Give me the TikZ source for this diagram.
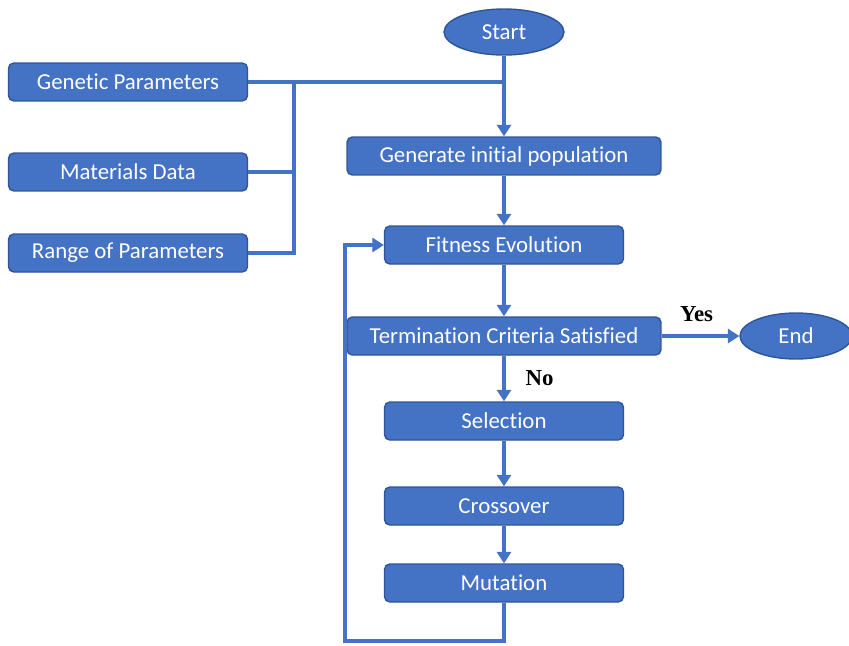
\documentclass[tikz,border=0pt]{standalone}
\usepackage{fontspec}
\setmainfont{Carlito}[Ligatures=NoCommon]
\newfontfamily\labelfont{Liberation Serif}
\usetikzlibrary{shapes.geometric, arrows.meta, positioning}
\definecolor{boxblue}{HTML}{4472C4}
\definecolor{edgeblue}{HTML}{2F5597}
\tikzset{
    block/.style={rectangle, draw=edgeblue, line width=0.8pt, fill=boxblue, text=white, minimum width=4.78cm, minimum height=0.76cm, rounded corners=3pt, font=\fontsize{13}{15}\selectfont},
    wideblock/.style={block, minimum width=6.28cm},
    terminal/.style={ellipse, draw=edgeblue, line width=0.8pt, fill=boxblue, text=white, minimum width=2.4cm, minimum height=0.92cm, font=\fontsize{13}{15}\selectfont},
    conn/.style={draw=boxblue, line width=2pt},
    line/.style={conn, -{Triangle[length=6.5pt, width=8pt]}},
    answer/.style={font=\labelfont\bfseries\fontsize{13}{15}\selectfont},
}
\begin{document}
\begin{tikzpicture}[x=0.02cm, y=-0.02cm]
    \useasboundingbox (0,0) rectangle (849,646);

    % Start and main chain
    \node[terminal] (start) at (504, 32) {Start};
    \node[wideblock] (gen) at (504, 156) {Generate initial population};
    \node[block] (fitness) at (504, 245) {Fitness Evolution};
    \node[wideblock] (term) at (504, 336) {Termination Criteria Satisfied};
    \node[terminal, minimum width=2.24cm] (stop) at (796, 336) {End};

    % Genetic operators
    \node[block] (select) at (504, 421) {Selection};
    \node[block] (cross) at (504, 506) {Crossover};
    \node[block] (mutate) at (504, 583) {Mutation};

    % Inputs
    \node[block] (genpar) at (128, 82) {Genetic Parameters};
    \node[block] (matdata) at (128, 172) {Materials Data};
    \node[block] (range) at (128, 253) {Range of Parameters};

    \coordinate (bus) at (294, 82);
    \coordinate (loop) at (345, 641);

    % Connectors
    \draw[line] (start) -- (gen);
    \draw[conn] (genpar.east) -- (genpar.east -| start.south);
    \draw[conn] (matdata.east) -| (bus);
    \draw[conn] (range.east) -| (bus);
    \draw[line] (gen) -- (fitness);
    \draw[line] (fitness) -- (term);
    \draw[line] (term) -- node[answer, above=4pt, pos=0.45] (yes) {Yes} (stop);
    \draw[line] (term) -- node[answer, right=8pt, pos=0.5] (no) {No} (select);
    \draw[line] (select) -- (cross);
    \draw[line] (cross) -- (mutate);
    \draw[line] (mutate.south) |- (loop) |- (fitness.west);

\end{tikzpicture}
\end{document}
